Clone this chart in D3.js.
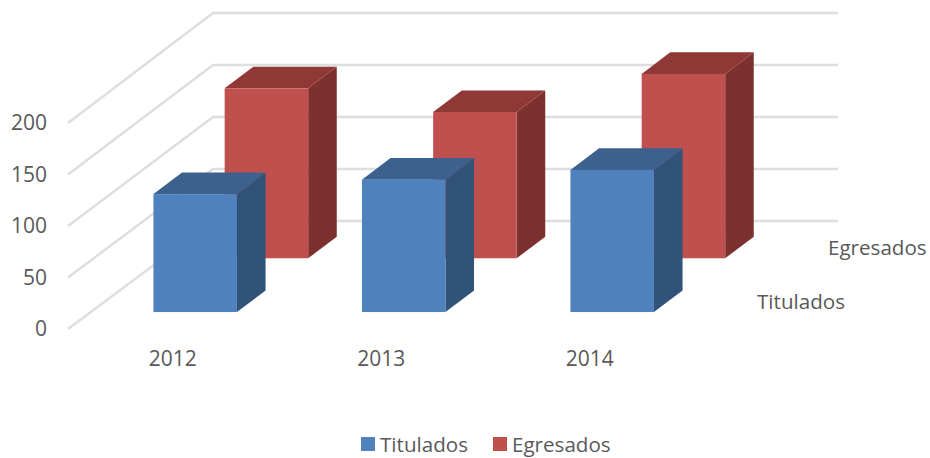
<!DOCTYPE html>
<html><head><meta charset="utf-8">
<script src="https://cdnjs.cloudflare.com/ajax/libs/d3/7.8.5/d3.min.js"></script>
<style>html,body{margin:0;padding:0;background:#fff}svg{display:block}text{font-family:"Open Sans","Noto Sans",sans-serif;fill:#595959}</style>
</head><body><svg id="c" width="930" height="458"></svg>
<script>
const categories = ["2012", "2013", "2014"];
const titulados = [114.5, 128.5, 138];
const egresados = [165, 142, 179];
const valueTicks = [0, 50, 100, 150, 200];
const seriesNames = ["Titulados", "Egresados"];
const seriesColors = {
  Titulados: {front: "#4f81bd", side: "#325379", top: "#3c618f"},
  Egresados: {front: "#c0504d", side: "#7d312f", top: "#8f3836"}
};
const seriesValues = {Titulados: titulados, Egresados: egresados};
const seriesDepth = {Titulados: 0.157, Egresados: 0.655};
const barDepth = 0.2;

const svg = d3.select("#c");
const y = d3.scaleLinear().domain([0, 200]).range([329, 123]);
const backY = d3.scaleLinear().domain([0, 200]).range([221, 13]);
const depthX = d3.scaleLinear().domain([0, 1]).range([0, 143]);
const depthY = d3.scaleLinear().domain([0, 1]).range([0, -108]);
const x = d3.scaleBand().domain(categories).range([68.5, 694]);
const barW = 83.5;

// walls
const grid = svg.append("g").attr("fill", "none").attr("stroke", "#dedede").attr("stroke-width", 2.4);
valueTicks.forEach(t => {
  grid.append("path").attr("d", d3.line()([[68, y(t)], [213, backY(t)], [838, backY(t)]]));
});

// value axis
const axisG = svg.append("g").attr("font-size", 21).attr("text-anchor", "end");
valueTicks.forEach(t => axisG.append("text").attr("x", 47).attr("y", y(t)).attr("dy", "0.35em").text(t));

// bars, back series first
["Egresados", "Titulados"].forEach(name => {
  const c = seriesColors[name], z = seriesDepth[name];
  const g = svg.append("g");
  categories.forEach((cat, i) => {
    const v = seriesValues[name][i];
    const cx = x(cat) + x.bandwidth() / 2;
    const x0 = cx - barW / 2 + depthX(z), x1 = x0 + barW;
    const base = y(0) + depthY(z);
    const top = base - (y(0) - y(v));
    const dx = depthX(barDepth), dy = depthY(barDepth);
    const line = d3.line();
    g.append("path").attr("d", line([[x1, top], [x1 + dx, top + dy], [x1 + dx, base + dy], [x1, base]]) + "Z").attr("fill", c.side);
    g.append("path").attr("d", line([[x0, top], [x0 + dx, top + dy], [x1 + dx, top + dy], [x1, top]]) + "Z").attr("fill", c.top);
    g.append("rect").attr("x", x0).attr("y", top).attr("width", barW).attr("height", base - top).attr("fill", c.front);
  });
});

// category labels
const catG = svg.append("g").attr("font-size", 21).attr("text-anchor", "middle");
categories.forEach(cat => catG.append("text").attr("x", x(cat) + x.bandwidth() / 2).attr("y", 366).text(cat));

// series depth labels
const depthG = svg.append("g").attr("font-size", 20.6);
depthG.append("text").attr("x", 757).attr("y", 309).text(seriesNames[0]);
depthG.append("text").attr("x", 828).attr("y", 255).text(seriesNames[1]);

// legend
const legend = svg.append("g");
const legendX = [361, 493];
seriesNames.forEach((n, i) => {
  legend.append("rect").attr("x", legendX[i]).attr("y", 437).attr("width", 14).attr("height", 14).attr("fill", seriesColors[n].front);
  legend.append("text").attr("x", legendX[i] + 19).attr("y", 452).attr("font-size", 20.6).text(n);
});
</script></body></html>
